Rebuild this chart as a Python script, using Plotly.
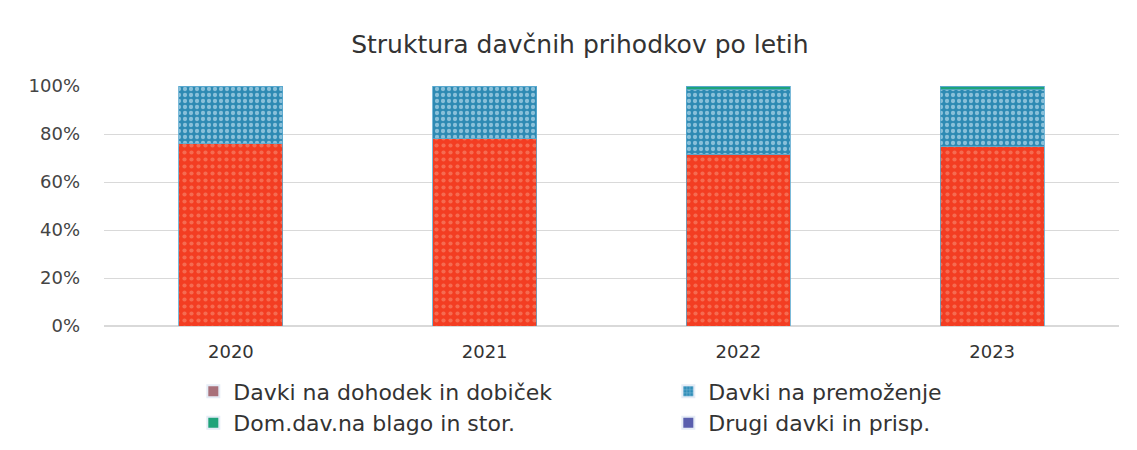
import plotly.graph_objects as go

years = ["2020", "2021", "2022", "2023"]
dohodek = [76.0, 78.0, 71.5, 75.0]
premozenje = [24.0, 22.0, 27.0, 23.5]
blago = [0.0, 0.0, 1.5, 1.5]
drugi = [0.0, 0.0, 0.0, 0.0]

names = ["Davki na dohodek in dobiček", "Davki na premoženje",
         "Dom.dav.na blago in stor.", "Drugi davki in prisp."]
series = [dohodek, premozenje, blago, drugi]
bar_colors = ["#f33d22", "#2e8ab3", "#1fa37a", "#4a5fae"]
legend_colors = ["#a8707a", "#2f8db8", "#1fa37a", "#5a5fae"]
patterns = [dict(shape=".", fgcolor="#f89a80", bgcolor="#f33d22", size=7, solidity=0.28),
            dict(shape=".", fgcolor="#e6f6ff", bgcolor="#2e8ab3", size=6, solidity=0.4),
            None, None]

FONT = "DejaVu Sans"
fig = go.Figure()
for i, (n, vals) in enumerate(zip(names, series)):
    m = dict(color=bar_colors[i], line=dict(color="#5aa9d0", width=0.8))
    if patterns[i]:
        m["pattern"] = patterns[i]
    fig.add_trace(go.Bar(x=years, y=vals, name=n, marker=m, showlegend=False,
                         legendgroup=n, width=0.41))
for i, n in enumerate(names):
    m = dict(color=legend_colors[i])
    if i == 1:
        m["pattern"] = dict(shape="+", fgcolor="#cfe9f7", bgcolor="#2f8db8", size=4, solidity=0.3)
    fig.add_trace(go.Bar(x=[None], y=[None], name=n, marker=m, legendgroup=n, showlegend=True))

fig.update_layout(
    barmode="stack",
    width=1137, height=450,
    paper_bgcolor="white", plot_bgcolor="white",
    margin=dict(l=96, r=26, t=78, b=132, autoexpand=False),
    title=dict(text="Struktura davčnih prihodkov po letih", x=0.503, xanchor="center",
               y=0.92, yanchor="middle", font=dict(family=FONT, size=25, color="#333333")),
    font=dict(family=FONT, color="#444444"),
    xaxis=dict(showgrid=False, showline=False, tickfont=dict(size=18, color="#333333"),
               ticks="", ticklabelstandoff=13),
    yaxis=dict(range=[0, 100], tickvals=[0, 20, 40, 60, 80, 100],
               ticktext=["0%", "20%", "40%", "60%", "80%", "100%"],
               showgrid=True, gridcolor="#d9d9d9", gridwidth=1, zeroline=True,
               zerolinecolor="#d9d9d9", tickfont=dict(size=18, color="#444444"),
               ticklabelstandoff=23),
    legend=dict(orientation="h", x=0.088, xanchor="left", y=-0.185, yanchor="top",
                entrywidth=430, entrywidthmode="pixels", itemwidth=30,
                font=dict(size=22, color="#333333"), tracegroupgap=0,
                itemsizing="constant"),
)
fig.write_html("out.html")
